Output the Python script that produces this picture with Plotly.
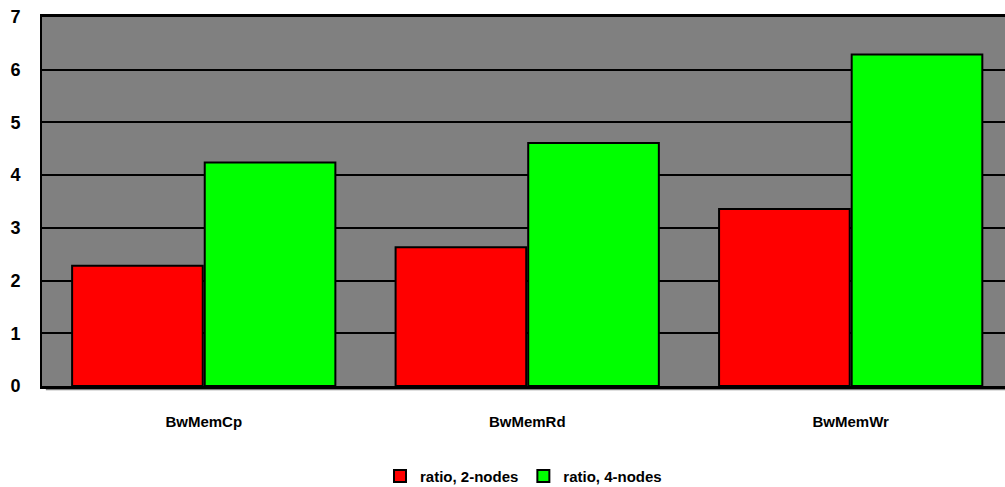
import plotly.graph_objects as go

categories = ["BwMemCp", "BwMemRd", "BwMemWr"]
ratio_2_nodes = [2.28, 2.63, 3.36]
ratio_4_nodes = [4.24, 4.61, 6.29]
y_ticks = [0, 1, 2, 3, 4, 5, 6, 7]

FONT = "Liberation Sans, Arial"

fig = go.Figure()
fig.add_bar(name="<b>ratio, 2-nodes</b>", x=categories, y=ratio_2_nodes,
            marker=dict(color="#ff0000", line=dict(color="black", width=2)))
fig.add_bar(name="<b>ratio, 4-nodes</b>", x=categories, y=ratio_4_nodes,
            marker=dict(color="#00ff00", line=dict(color="black", width=2)))

fig.update_layout(
    width=1005, height=487,
    margin=dict(l=42, r=0, t=17, b=101, autoexpand=False),
    paper_bgcolor="white", plot_bgcolor="#808080",
    barmode="group", bargap=0.18, bargroupgap=0.015,
    font=dict(family=FONT, color="black"),
    showlegend=True,
    legend=dict(orientation="h", x=0.5, xanchor="center", y=-0.2, yanchor="top",
                font=dict(size=15, family=FONT), traceorder="normal",
                bgcolor="rgba(0,0,0,0)"),
    # thin drop shadow under the plot frame
    shapes=[dict(type="rect", xref="paper", yref="paper",
                 x0=0.004, x1=1.0, y0=-0.0115, y1=-0.004,
                 fillcolor="#808080", line=dict(width=0), layer="below")],
)
fig.update_xaxes(range=[-0.5, 2.477], showline=True, linecolor="black", linewidth=3,
                 mirror=True, ticks="", ticklabelstandoff=20, automargin=False,
                 tickvals=categories, ticktext=[f"<b>{c}</b>" for c in categories],
                 tickfont=dict(size=15, family=FONT))
fig.update_yaxes(range=[0, 7], tickvals=y_ticks, ticktext=[f"<b>{t}</b>" for t in y_ticks],
                 showgrid=True, gridcolor="black", gridwidth=2,
                 showline=True, linecolor="black", linewidth=2, mirror=False,
                 zeroline=False, ticks="", ticklabelstandoff=16, automargin=False,
                 tickfont=dict(size=18, family=FONT))

fig.write_html("out.html")
